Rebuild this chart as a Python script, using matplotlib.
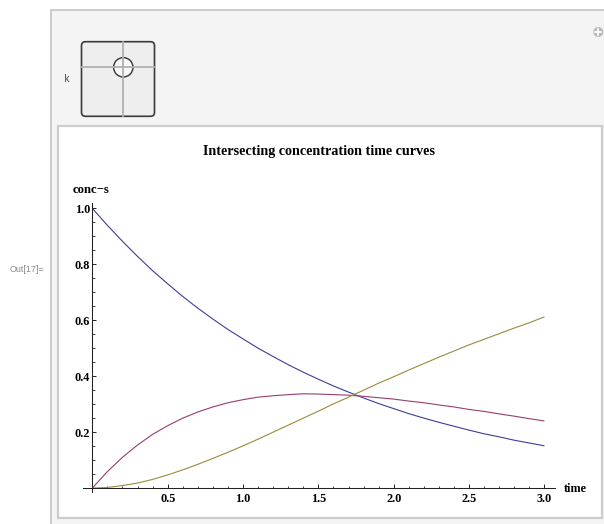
import matplotlib
matplotlib.use("Agg")
from matplotlib import pyplot as plt
from matplotlib.patches import Rectangle, FancyBboxPatch, Circle
from matplotlib.ticker import MultipleLocator, FixedLocator

# values (conc vs time, step 0.1)
time = [0.0, 0.1, 0.2, 0.3, 0.4, 0.5, 0.6, 0.7, 0.8, 0.9, 1.0,
        1.1, 1.2, 1.3, 1.4, 1.5, 1.6, 1.7, 1.8, 1.9, 2.0,
        2.1, 2.2, 2.3, 2.4, 2.5, 2.6, 2.7, 2.8, 2.9, 3.0]
conc_a = [1.000, 0.939, 0.882, 0.828, 0.777, 0.730, 0.685, 0.643, 0.604, 0.567, 0.533,
          0.500, 0.470, 0.441, 0.414, 0.389, 0.365, 0.343, 0.322, 0.302, 0.284,
          0.266, 0.250, 0.235, 0.221, 0.207, 0.194, 0.183, 0.171, 0.161, 0.151]
conc_b = [0.000, 0.059, 0.110, 0.154, 0.192, 0.223, 0.250, 0.272, 0.290, 0.305, 0.316,
          0.325, 0.330, 0.334, 0.337, 0.336, 0.334, 0.332, 0.328, 0.323, 0.318,
          0.311, 0.305, 0.297, 0.290, 0.281, 0.274, 0.265, 0.257, 0.248, 0.240]
conc_c = [0.000, 0.002, 0.009, 0.018, 0.031, 0.047, 0.065, 0.085, 0.106, 0.128, 0.151,
          0.175, 0.200, 0.225, 0.250, 0.275, 0.301, 0.325, 0.350, 0.375, 0.398,
          0.422, 0.445, 0.468, 0.490, 0.512, 0.532, 0.552, 0.572, 0.591, 0.612]
series_colors = ["#3d3d99", "#993d71", "#998c3d"]

x_ticks = [0.5, 1.0, 1.5, 2.0, 2.5, 3.0]
y_ticks = [0.2, 0.4, 0.6, 0.8, 1.0]

W, H = 604, 524
serif = ["Liberation Serif", "DejaVu Serif"]

fig = plt.figure(figsize=(W / 100, H / 100), dpi=100)

# background layer in pixel coords
bg = fig.add_axes([0, 0, 1, 1])
bg.set_xlim(0, W)
bg.set_ylim(H, 0)
bg.axis("off")

# outer manipulate panel
bg.add_patch(Rectangle((50.5, 10), 560, 530, facecolor="#f4f4f4", edgecolor="#c4c4c4", lw=1.2))
# inner plot panel
bg.add_patch(Rectangle((58, 126), 544, 391.5, facecolor="white", edgecolor="#cdcdcd", lw=1.6))

# plus icon
bg.add_patch(Circle((598.3, 32), 5, facecolor="#b8b8b8", edgecolor="none"))
bg.plot([595.3, 601.3], [32, 32], color="white", lw=1.3)
bg.plot([598.3, 598.3], [29, 35], color="white", lw=1.3)

# 2D slider control
bg.text(66.7, 79, "k", fontsize=7, family=["Liberation Mono", "DejaVu Sans Mono"], color="#444",
        ha="center", va="center")
bg.add_patch(FancyBboxPatch((81.5, 41.7), 73, 74.6, boxstyle="round,pad=0,rounding_size=4",
                            facecolor="#eeeeee", edgecolor="#3a3a3a", lw=1.2))
bg.plot([123.3, 123.3], [42.3, 115.7], color="#b0b0b0", lw=1.3)
bg.plot([82.2, 154], [67.3, 67.3], color="#b0b0b0", lw=1.3)
bg.add_patch(Circle((123.3, 67.3), 9.7, facecolor="#f7f7f7", edgecolor="#333", lw=1.0))

bg.text(26.5, 269, "Out[17]=", fontsize=6.4, family="Liberation Sans", color="#888",
        ha="center", va="center")

# title and axis labels
bg.text(319, 152, "Intersecting concentration time curves", fontsize=10.2, fontweight="bold",
        family=serif, ha="center", va="center")
bg.text(73, 190, "conc\u2212s", fontsize=9.2, fontweight="bold", family=serif, ha="left", va="center")
bg.text(564, 489, "time", fontsize=8.8, fontweight="bold", family=serif, ha="left", va="center")

# plot axes
ax = fig.add_axes([82.7 / W, (H - 491.7) / H, (555 - 82.7) / W, (491.7 - 203) / H])
ax.patch.set_alpha(0)
ax.set_xlim(-0.064, 3.07)
ax.set_ylim(-0.013, 1.019)

for y, c in zip([conc_a, conc_b, conc_c], series_colors):
    ax.plot(time, y, color=c, lw=0.8, solid_capstyle="butt")

for s in ["top", "right"]:
    ax.spines[s].set_visible(False)
for s in ["left", "bottom"]:
    ax.spines[s].set_position(("data", 0))
    ax.spines[s].set_color("#222")
    ax.spines[s].set_linewidth(0.75)

ax.xaxis.set_major_locator(FixedLocator(x_ticks))
ax.yaxis.set_major_locator(FixedLocator(y_ticks))
ax.xaxis.set_minor_locator(MultipleLocator(0.1))
ax.yaxis.set_minor_locator(MultipleLocator(0.05))
ax.set_xticklabels([f"{v:.1f}" for v in x_ticks])
ax.set_yticklabels([f"{v:.1f}" for v in y_ticks])
ax.tick_params(which="major", direction="in", length=3, width=0.7, color="#222")
ax.tick_params(which="minor", direction="in", length=1.8, width=0.6, color="#222")
ax.tick_params(axis="x", which="major", pad=3.2)
ax.tick_params(axis="y", which="major", pad=1.5)
for lab in ax.get_xticklabels() + ax.get_yticklabels():
    lab.set_fontfamily(serif)
    lab.set_fontweight("bold")
    lab.set_fontsize(8.8)

fig.savefig("out.png", dpi=100)
